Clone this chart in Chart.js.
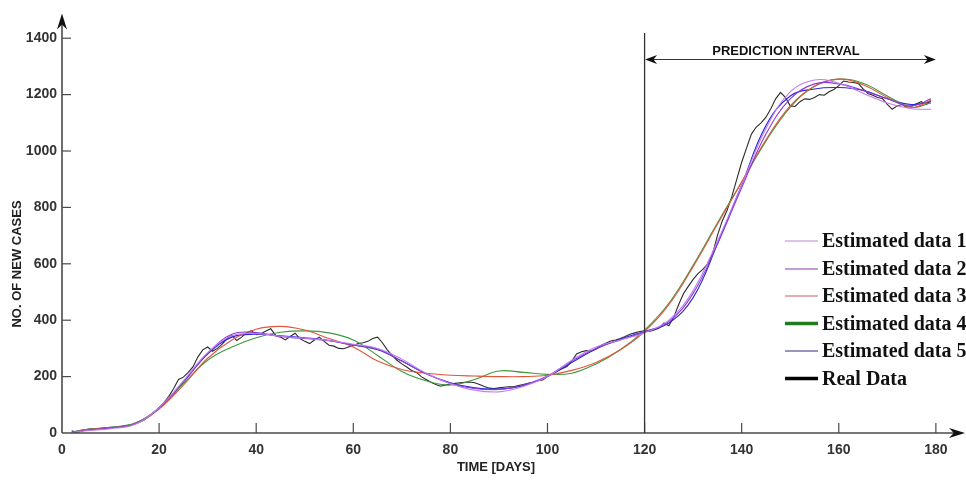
<!DOCTYPE html>
<html><head><meta charset="utf-8">
<script src="https://cdn.jsdelivr.net/npm/chart.js@4"></script>
<style>html,body{margin:0;padding:0;background:#fff}#wrap{width:966px;height:481px}</style>
</head><body><div id="wrap"><canvas id="c" width="966" height="481"></canvas></div>
<script>
// ---- DATA ----
const days = [2,5,10,15,20,25,30,35,40,45,50,55,60,65,70,75,80,85,90,95,100,105,110,115,120,125,130,135,140,145,150,155,160,165,170,175,179];
const est1 = [2,8,15,30,90,185,285,345,352,343,336,328,315,300,262,212,175,152,146,165,200,258,305,330,355,400,505,680,880,1080,1210,1252,1240,1205,1170,1150,1148];
const est2 = [0,10,18,32,88,182,282,350,356,342,335,327,312,298,255,210,176,158,154,170,202,255,300,330,358,395,495,670,870,1060,1185,1238,1238,1215,1185,1160,1185];
const est3 = [0,12,18,32,85,170,265,330,368,378,365,335,305,255,225,212,205,202,200,200,205,222,250,295,360,455,590,740,890,1040,1160,1230,1255,1235,1190,1155,1180];
const est4 = [0,12,20,35,88,175,258,305,338,357,362,355,330,275,218,185,170,190,220,215,208,212,245,295,365,460,595,745,890,1035,1155,1230,1255,1240,1195,1155,1170];
const est5 = [3,12,20,33,90,180,280,340,350,345,338,328,312,295,255,210,178,160,156,168,200,250,298,333,360,390,480,670,880,1090,1195,1220,1225,1215,1185,1165,1175];
const realDays = [2,3,4,5,6,7,8,9,10,11,12,13,14,15,16,17,18,19,20,21,22,23,24,25,26,27,28,29,30,31,32,33,34,35,36,37,38,39,40,41,42,43,44,45,46,47,48,49,50,51,52,53,54,55,56,57,58,59,60,61,62,63,64,65,66,67,68,69,70,71,72,73,74,75,76,77,78,79,80,81,82,83,84,85,86,87,88,89,90,91,92,93,94,95,96,97,98,99,100,101,102,103,104,105,106,107,108,109,110,111,112,113,114,115,116,117,118,119,120,121,122,123,124,125,126,127,128,129,130,131,132,133,134,135,136,137,138,139,140,141,142,143,144,145,146,147,148,149,150,151,152,153,154,155,156,157,158,159,160,161,162,163,164,165,166,167,168,169,170,171,172,173,174,175,176,177,178,179];
const realData = [8,2,6,12,14,15,15,17,18,20,22,25,28,32,38,47,60,74,90,108,130,158,190,198,215,235,270,295,305,290,300,315,335,346,328,340,355,363,349,352,362,370,346,340,330,342,354,335,325,317,330,340,325,311,308,300,299,305,310,317,320,325,335,340,320,295,275,258,245,234,222,215,200,190,180,172,166,170,174,176,178,180,181,178,172,165,159,158,160,162,164,164,168,172,176,180,185,188,200,210,220,228,236,255,280,288,292,290,298,310,318,326,330,335,342,350,355,360,362,360,365,372,390,380,410,455,494,520,545,565,580,600,635,700,752,790,840,900,960,1010,1060,1085,1100,1120,1150,1185,1208,1190,1160,1158,1175,1185,1183,1190,1200,1198,1210,1218,1232,1248,1245,1243,1240,1220,1204,1198,1190,1186,1165,1148,1160,1165,1155,1160,1168,1175,1165,1180];
const xTicks = [0,20,40,60,80,100,120,140,160,180];
const yTicks = [0,200,400,600,800,1000,1200,1400];
const seriesNames = ['Estimated data 1','Estimated data 2','Estimated data 3','Estimated data 4','Estimated data 5','Real Data'];
const predictionStart = 120;
const predictionEnd = 180;

// ---- STYLE ----
const plotColors = ['#c27cf0','#8a3cd6','#e2553e','#3c9a3c','#2a2ad2','#2a2a2a'];
const legendColors = ['#b784d8','#8a3aa8','#c8605a','#1d7d1d','#2d2d80','#000000'];
const legendWidths = [1.2,1.2,1.2,3.5,1.2,3.5];
const axisColor = '#4a4a4a';

const toPts = (xs, ys) => xs.map((x, i) => ({x, y: ys[i]}));
const estSets = [est1, est2, est3, est4, est5];
const datasets = estSets.map((s, i) => ({
  label: seriesNames[i], data: toPts(days, s), borderColor: plotColors[i],
  borderWidth: 1.1, pointRadius: 0, fill: false, tension: 0.4
}));
datasets.push({label: seriesNames[5], data: toPts(realDays, realData), borderColor: plotColors[5],
  borderWidth: 1.1, pointRadius: 0, fill: false, tension: 0});

function arrowHead(ctx, tx, ty, dir, len, half) {
  const [dx, dy] = dir; const px = -dy, py = dx;
  const bx = tx - dx * len, by = ty - dy * len;
  const nx = tx - dx * len * 0.7, ny = ty - dy * len * 0.7;
  ctx.beginPath();
  ctx.moveTo(tx, ty);
  ctx.lineTo(bx + px * half, by + py * half);
  ctx.lineTo(nx, ny);
  ctx.lineTo(bx - px * half, by - py * half);
  ctx.closePath();
  ctx.fill();
}

const overlay = {
  id: 'overlay',
  afterDatasetsDraw(chart) {
    const {ctx, chartArea: a, scales: {x, y}} = chart;
    ctx.save();
    ctx.strokeStyle = axisColor; ctx.fillStyle = '#111';
    ctx.lineWidth = 1.6;
    ctx.beginPath(); ctx.moveTo(a.left, a.bottom); ctx.lineTo(a.right - 4, a.bottom); ctx.stroke();
    ctx.beginPath(); ctx.moveTo(a.left, a.bottom); ctx.lineTo(a.left, a.top + 4); ctx.stroke();
    arrowHead(ctx, a.left, a.top, [0, -1], 16, 5);
    arrowHead(ctx, a.right, a.bottom, [1, 0], 16, 5);
    ctx.lineWidth = 1.2;
    xTicks.forEach(v => { if (v === 0) return; const px = x.getPixelForValue(v);
      ctx.beginPath(); ctx.moveTo(px, a.bottom); ctx.lineTo(px, a.bottom - 10); ctx.stroke(); });
    yTicks.forEach(v => { if (v === 0) return; const py = y.getPixelForValue(v);
      ctx.beginPath(); ctx.moveTo(a.left, py); ctx.lineTo(a.left + 9, py); ctx.stroke(); });
    const px0 = x.getPixelForValue(predictionStart), px1 = x.getPixelForValue(predictionEnd);
    ctx.strokeStyle = '#333'; ctx.lineWidth = 1.3;
    ctx.beginPath(); ctx.moveTo(px0, 33); ctx.lineTo(px0, a.bottom); ctx.stroke();
    const ay = 59.5;
    ctx.lineWidth = 1.2;
    ctx.beginPath(); ctx.moveTo(px0 + 4, ay); ctx.lineTo(px1 - 4, ay); ctx.stroke();
    arrowHead(ctx, px0 + 0.5, ay, [-1, 0], 12, 4.5);
    arrowHead(ctx, px1, ay, [1, 0], 12, 4.5);
    ctx.fillStyle = '#111';
    ctx.font = 'bold 13px "Liberation Sans", Arial, sans-serif';
    ctx.textAlign = 'center'; ctx.textBaseline = 'middle';
    ctx.fillText('PREDICTION INTERVAL', 786, 51);
    ctx.fillStyle = '#222';
    ctx.font = 'bold 13px "Liberation Sans", Arial, sans-serif';
    ctx.fillText('TIME [DAYS]', 496, 467);
    ctx.save(); ctx.translate(17, 264); ctx.rotate(-Math.PI / 2);
    ctx.fillText('NO. OF NEW CASES', 0, 0); ctx.restore();
    const rows = [241, 269, 296, 323.5, 351, 378.5];
    ctx.font = 'bold 20px "Liberation Serif", "Times New Roman", serif';
    ctx.textAlign = 'left'; ctx.textBaseline = 'middle';
    seriesNames.forEach((n, i) => {
      ctx.strokeStyle = legendColors[i]; ctx.lineWidth = legendWidths[i];
      ctx.beginPath(); ctx.moveTo(785, rows[i]); ctx.lineTo(818, rows[i]); ctx.stroke();
      ctx.fillStyle = '#111';
      ctx.fillText(n, 822, rows[i] + 1);
    });
    ctx.restore();
  }
};

const tickFont = {family: '"Liberation Sans", Arial, sans-serif', size: 14, weight: 'bold'};
new Chart(document.getElementById('c'), {
  type: 'line',
  data: {datasets},
  options: {
    responsive: false, animation: false, devicePixelRatio: 1,
    layout: {padding: {left: 0, top: 12, right: 1, bottom: 0}},
    plugins: {legend: {display: false}, tooltip: {enabled: false}},
    scales: {
      x: {type: 'linear', min: 0, max: 186,
        afterFit: s => { s.height = 48; },
        afterBuildTicks: s => { s.ticks = xTicks.map(v => ({value: v})); },
        grid: {display: false, drawTicks: false}, border: {display: false},
        ticks: {padding: 9, color: '#333', font: tickFont, maxRotation: 0, callback: v => String(v)}
      },
      y: {type: 'linear', min: 0, max: 1488,
        afterFit: s => { s.width = 62; },
        afterBuildTicks: s => { s.ticks = yTicks.map(v => ({value: v})); },
        grid: {display: false, drawTicks: false}, border: {display: false},
        ticks: {padding: 5, color: '#333', font: tickFont, callback: v => String(v)}
      }
    }
  },
  plugins: [overlay]
});
</script>
</body></html>
